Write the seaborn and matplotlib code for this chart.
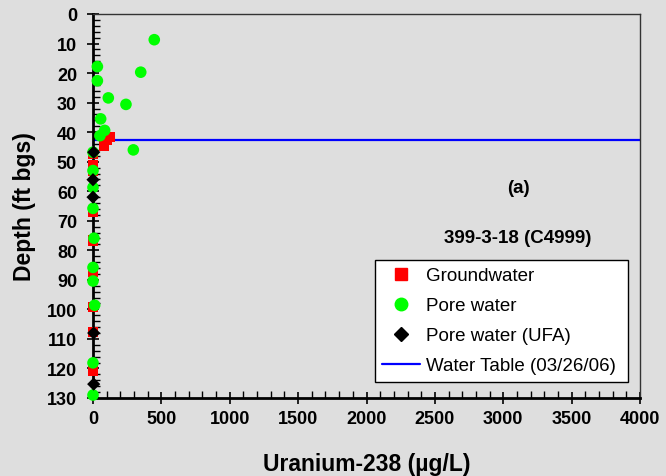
import matplotlib
matplotlib.use("Agg")
import matplotlib.pyplot as plt
import seaborn as sns
import pandas as pd
from matplotlib.ticker import MultipleLocator
from matplotlib.lines import Line2D

# Data
gw_u238 = [124, 100, 80, 0, 0, 0, 0, 0, 0, 0, 0, 0]
gw_depth = [41.7, 42.5, 44.8, 47.4, 51.3, 53.0, 67.1, 76.7, 87.4, 99.3, 107.7, 120.7]

pw_u238 = [448, 349, 241, 295, 112, 32, 32, 56, 85, 51, 0, 0, 0, 0, 7, 0, 0, 12, 0, 0]
pw_depth = [8.7, 19.7, 30.6, 46.0, 28.4, 17.8, 22.6, 35.5, 39.4, 41.2, 46.8, 53.0, 58.7, 65.8,
            75.9, 85.8, 90.4, 98.6, 118.1, 129.0]

ufa_u238 = [5, 0, 0, 5, 5]
ufa_depth = [46.8, 56.1, 62.0, 108.0, 125.3]

water_table_depth = 42.6
water_table_label = "Water Table (03/26/06)"
series_labels = ["Groundwater", "Pore water", "Pore water (UFA)"]

gw = pd.DataFrame({"u": gw_u238, "d": gw_depth})
pw = pd.DataFrame({"u": pw_u238, "d": pw_depth})
ufa = pd.DataFrame({"u": ufa_u238, "d": ufa_depth})

sns.set_style("ticks")
plt.rcParams['font.family'] = ['Liberation Sans', 'DejaVu Sans']
plt.rcParams['text.color'] = 'black'
plt.rcParams['axes.labelcolor'] = 'black'
plt.rcParams['xtick.color'] = 'black'
plt.rcParams['ytick.color'] = 'black'

bg = "#dedede"
fig = plt.figure(figsize=(6.66, 4.77), dpi=100, facecolor=bg)
ax = fig.add_axes([93/666, 1-399/477, (640-93)/666, (399-15)/477])
ax.set_facecolor(bg)

ax.axhline(water_table_depth, color="#0000ff", lw=1.6, zorder=2)
sns.scatterplot(data=gw, x="u", y="d", ax=ax, marker="s", s=55, color="#ff0000",
                edgecolor="none", linewidth=0, zorder=3, clip_on=False)
sns.scatterplot(data=pw, x="u", y="d", ax=ax, marker="o", s=70, color="#00ff00",
                edgecolor="none", linewidth=0, zorder=4, clip_on=False)
sns.scatterplot(data=ufa, x="u", y="d", ax=ax, marker="D", s=45, color="#000000",
                edgecolor="none", linewidth=0, zorder=5, clip_on=False)

ax.set_xlim(0, 4000)
ax.set_ylim(130, 0)
ax.xaxis.set_major_locator(MultipleLocator(500))
ax.xaxis.set_minor_locator(MultipleLocator(100))
ax.yaxis.set_major_locator(MultipleLocator(10))
ax.yaxis.set_minor_locator(MultipleLocator(2))
ax.tick_params(axis="both", which="both", bottom=True, left=True, top=False, right=False)
ax.tick_params(axis="both", which="major", direction="inout", length=9, width=1.2,
               colors="black", labelsize=13)
ax.tick_params(axis="both", which="minor", direction="in", length=5, width=1, colors="black")
ax.tick_params(axis="x", which="major", pad=4)
ax.tick_params(axis="y", which="major", pad=7)
for lab in ax.get_xticklabels() + ax.get_yticklabels():
    lab.set_fontweight("bold")

for side in ["left", "bottom"]:
    ax.spines[side].set_color("black")
    ax.spines[side].set_linewidth(2)
for side in ["top", "right"]:
    ax.spines[side].set_visible(True)
    ax.spines[side].set_color("#333333")
    ax.spines[side].set_linewidth(1)

ax.set_xlabel("Uranium-238 (\u00b5g/L)", fontsize=16.5, fontweight="bold", labelpad=18)
ax.set_ylabel("Depth (ft bgs)", fontsize=16.5, fontweight="bold", labelpad=8)

ax.text(0.777, 0.549, "(a)", transform=ax.transAxes, ha="center", va="center",
        fontsize=13.5, fontweight="bold")
ax.text(0.776, 0.419, "399-3-18 (C4999)", transform=ax.transAxes, ha="center", va="center",
        fontsize=13.5, fontweight="bold")

handles = [
    Line2D([], [], marker="s", color="#ff0000", ls="none", markersize=8),
    Line2D([], [], marker="o", color="#00ff00", ls="none", markersize=9),
    Line2D([], [], marker="D", color="#000000", ls="none", markersize=7),
    Line2D([], [], color="#0000ff", lw=1.6),
]
labels = series_labels + [water_table_label]
leg = ax.legend(handles, labels, loc="lower left", bbox_to_anchor=(0.5155, 0.042, 0.4625, 0.317),
                mode="expand", fontsize=13.5, frameon=True, fancybox=False,
                edgecolor="black", facecolor="white", framealpha=1, borderpad=0.4,
                borderaxespad=0, handlelength=2.0, handletextpad=0.3, labelspacing=0.69)
leg.get_frame().set_linewidth(1)

fig.savefig("out.png", dpi=100, facecolor=bg)
